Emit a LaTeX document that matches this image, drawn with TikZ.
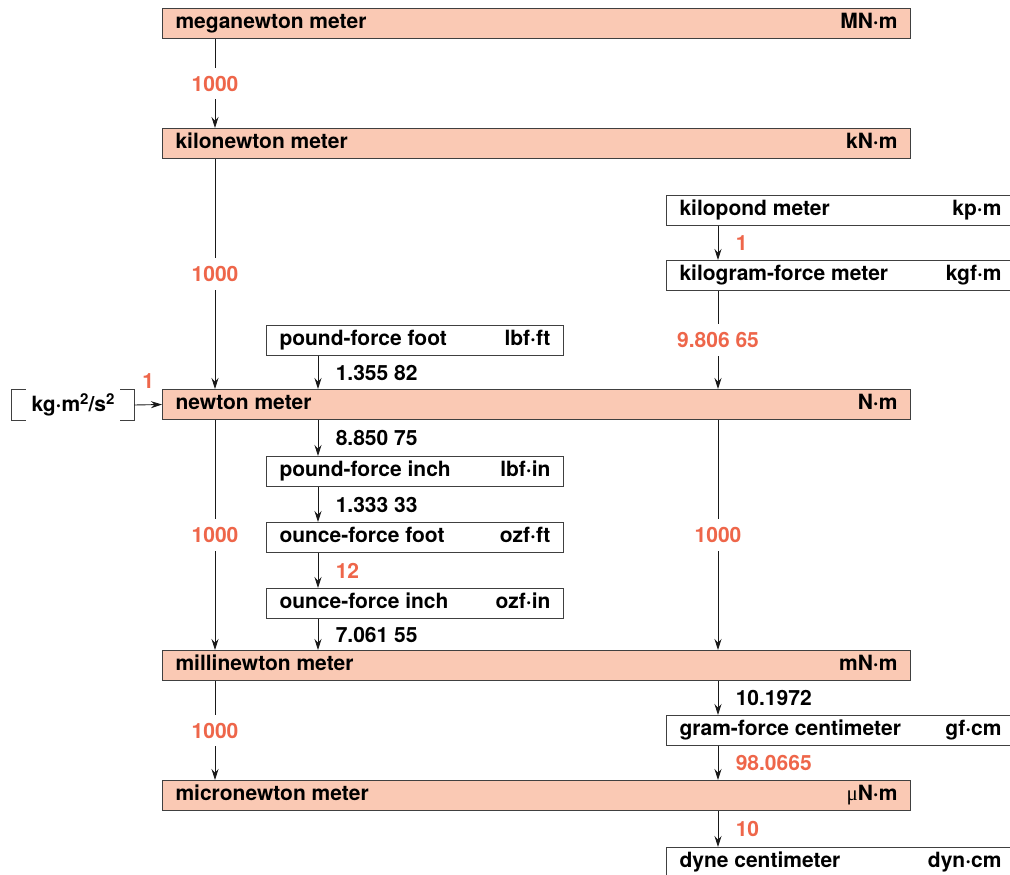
\documentclass[tikz,border=0pt]{standalone}
\usepackage{fontspec}
\setmainfont{TeX Gyre Heros}
\newfontfamily\mufont{Liberation Serif}
\usetikzlibrary{positioning,arrows.meta}
\definecolor{boxfill}{RGB}{250,201,180}
\definecolor{factred}{RGB}{238,102,74}
\newcommand{\unitrow}[3]{\hbox to #1{#2\hfill #3}}
\newcommand{\sqr}{\raisebox{7pt}{\fontsize{15}{15}\selectfont 2}}

\begin{document}
\begin{tikzpicture}[x=1pt, y=-1pt,
>={Stealth[length=11pt,width=7pt]},
every node/.style={font=\fontsize{21}{25}\selectfont\bfseries},
basebox/.style={draw=black!75, line width=1pt, anchor=north west, minimum height=30pt, inner xsep=13pt, inner ysep=0pt, text height=15pt, text depth=5pt},
sibox/.style={basebox, fill=boxfill},
plainbox/.style={basebox, fill=white},
conv/.style={->, line width=0.9pt, draw=black!90},
onfactor/.style={midway, fill=white, text=factred, inner sep=8pt},
factor/.style={midway, right=14pt, text=black},
exact/.style={text=factred}
]
\useasboundingbox (0,0) rectangle (1010,875);
%Boxes
\node[sibox]     (MNm)   at (162,8)                {\unitrow{722pt}{meganewton meter}{MN·m}};
\node[sibox]     (kNm)   at (162,128)              {\unitrow{722pt}{kilonewton meter}{kN·m}};
\node[plainbox]  (kpm)   at (666,195)              {\unitrow{322pt}{kilopond meter}{kp·m}};
\node[plainbox]  (kgfm)  [below=34pt of kpm]       {\unitrow{322pt}{kilogram-force meter}{kgf·m}};
\node[plainbox]  (lbfft) at (266,325)              {\unitrow{271pt}{pound-force foot}{lbf·ft}};
\node[sibox]     (Nm)    at (162,389)              {\unitrow{722pt}{newton meter}{N·m}};
\node[plainbox]  (lbfin) [below=100pt of lbfft]    {\unitrow{271pt}{pound-force inch}{lbf·in}};
\node[plainbox]  (ozfft) [below=35pt of lbfin]     {\unitrow{271pt}{ounce-force foot}{ozf·ft}};
\node[plainbox]  (ozfin) [below=35pt of ozfft]     {\unitrow{271pt}{ounce-force inch}{ozf·in}};
\node[sibox]     (mNm)   at (162,650)              {\unitrow{722pt}{millinewton meter}{mN·m}};
\node[plainbox]  (gfcm)  at (666,715)              {\unitrow{322pt}{gram-force centimeter}{gf·cm}};
\node[sibox]     (uNm)   at (162,780)              {\unitrow{722pt}{micronewton meter}{{\mufont\mdseries μ}N·m}};
\node[plainbox]  (dyncm) [below=101pt of gfcm]     {\unitrow{322pt}{dyne centimeter}{dyn·cm}};
\node[minimum width=122pt, minimum height=30pt] (kgm) at (73,405) {kg·m\sqr/s\sqr};
%Brackets
\draw[line width=1pt, black!75] ([xshift=14pt]kgm.north west) -| (kgm.south west) -- ++(14pt,0);
\draw[line width=1pt, black!75] ([xshift=-14pt]kgm.north east) -| (kgm.south east) -- ++(-14pt,0);
%Lines
\draw[conv] (kgm.east) -- (Nm.west) node [midway, above=12pt, exact] {1};
\draw[conv] ([xshift=53pt]MNm.south west) -- ([xshift=53pt]kNm.north west) node [onfactor] {1000};
\draw[conv] ([xshift=53pt]kNm.south west) -- ([xshift=53pt]Nm.north west) node [onfactor] {1000};
\draw[conv] ([xshift=53pt]Nm.south west) -- ([xshift=53pt]mNm.north west) node [onfactor] {1000};
\draw[conv] ([xshift=53pt]mNm.south west) -- ([xshift=53pt]uNm.north west) node [onfactor] {1000};
\draw[conv] ([xshift=52pt]kpm.south west) -- ([xshift=52pt]kgfm.north west) node [factor, exact] {1};
\draw[conv] ([xshift=52pt]kgfm.south west) -- ([xshift=52pt]kgfm.south west |- Nm.north) node [onfactor] {9.806 65};
\draw[conv] ([xshift=52pt]gfcm.north west |- Nm.south) -- ([xshift=52pt]gfcm.north west |- mNm.north) node [onfactor] {1000};
\draw[conv] ([xshift=52pt]gfcm.north west |- mNm.south) -- ([xshift=52pt]gfcm.north west) node [factor] {10.1972};
\draw[conv] ([xshift=52pt]gfcm.south west) -- ([xshift=52pt]gfcm.south west |- uNm.north) node [factor, exact] {98.0665};
\draw[conv] ([xshift=52pt]dyncm.north west |- uNm.south) -- ([xshift=52pt]dyncm.north west) node [factor, exact] {10};
\draw[conv] ([xshift=52pt]lbfft.south west) -- ([xshift=52pt]lbfft.south west |- Nm.north) node [factor] {1.355 82};
\draw[conv] ([xshift=52pt]lbfin.north west |- Nm.south) -- ([xshift=52pt]lbfin.north west) node [factor] {8.850 75};
\draw[conv] ([xshift=52pt]lbfin.south west) -- ([xshift=52pt]ozfft.north west) node [factor] {1.333 33};
\draw[conv] ([xshift=52pt]ozfft.south west) -- ([xshift=52pt]ozfin.north west) node [factor, exact] {12};
\draw[conv] ([xshift=52pt]ozfin.south west) -- ([xshift=52pt]ozfin.south west |- mNm.north) node [factor] {7.061 55};
\end{tikzpicture}
\end{document}
